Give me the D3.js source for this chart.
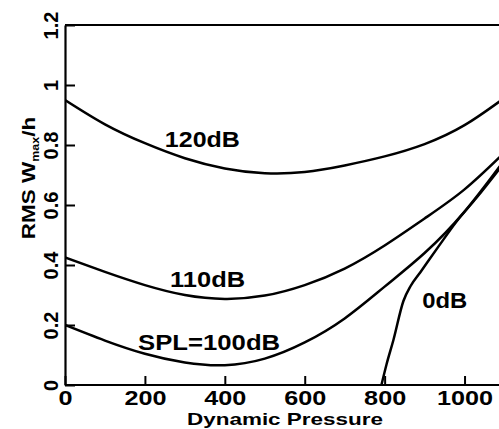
<!DOCTYPE html>
<html>
<head>
<meta charset="utf-8">
<script src="https://cdn.jsdelivr.net/npm/d3@7"></script>
<style>
  html, body { margin: 0; padding: 0; background: #fff; }
  svg { display: block; }
  text { font-family: "Liberation Sans", Arial, sans-serif; font-weight: bold; fill: #000; }
</style>
</head>
<body>
<svg id="chart" width="499" height="429"></svg>
<script>
// ---- data ----
const pressure = [0, 100, 200, 300, 400, 500, 600, 700, 800, 900, 1000, 1100];
const rms120 = [0.95, 0.869, 0.806, 0.756, 0.722, 0.706, 0.71, 0.732, 0.762, 0.803, 0.866, 0.957];
const rms110 = [0.425, 0.377, 0.333, 0.300, 0.287, 0.298, 0.333, 0.388, 0.465, 0.555, 0.652, 0.775];
const rms100 = [0.20, 0.148, 0.104, 0.075, 0.066, 0.088, 0.142, 0.222, 0.328, 0.44, 0.578, 0.75];
const pressure0 = [792, 805, 822, 847, 865, 889, 935, 980, 1030, 1100];
const rms0 = [0, 0.07, 0.15, 0.28, 0.33, 0.375, 0.462, 0.545, 0.624, 0.742];
const xTicks = [0, 200, 400, 600, 800, 1000];
const yTicks = [0, 0.2, 0.4, 0.6, 0.8, 1, 1.2];
const curveLabels = [
  { text: "120dB", p: 250, v: 0.793, w: 75 },
  { text: "110dB", p: 263, v: 0.327, w: 75 },
  { text: "SPL=100dB", p: 183, v: 0.117, w: 142 },
  { text: "0dB", p: 894, v: 0.257, w: 45 }
];

// ---- layout ----
const svg = d3.select("#chart");
const x = d3.scaleLinear().domain([0, 1100]).range([65, 504.5]);
const y = d3.scaleLinear().domain([0, 1.2]).range([385, 25]);

svg.append("defs").append("clipPath").attr("id", "clip")
  .append("rect").attr("x", 65).attr("y", 20).attr("width", 440).attr("height", 366);

// top frame line
svg.append("line").attr("x1", x(0)).attr("x2", 499).attr("y1", y(1.2)).attr("y2", y(1.2))
  .attr("stroke", "#000").attr("stroke-width", 2.2);

// x axis
const xAxis = svg.append("g").attr("transform", `translate(0,${y(0)})`)
  .call(d3.axisBottom(x).tickValues(xTicks).tickSizeInner(-9).tickSizeOuter(0).tickFormat(d3.format("d")));
xAxis.select(".domain").attr("stroke-width", 2.2).attr("d", `M${x(0)},0H499`);
xAxis.selectAll(".tick line").attr("stroke-width", 2);
xAxis.selectAll(".tick text").attr("y", 20).attr("dy", 0)
  .style("font-size", "21px").attr("transform", "scale(1.2,1)");

// y axis
const yAxis = svg.append("g").attr("transform", `translate(${x(0)},0)`)
  .call(d3.axisLeft(y).tickValues(yTicks).tickSizeInner(-10).tickSizeOuter(0).tickFormat(d => d3.format("~g")(d)));
yAxis.select(".domain").attr("stroke-width", 2.2);
yAxis.selectAll(".tick line").attr("stroke-width", 2);
yAxis.selectAll(".tick text").attr("x", null).attr("dy", null).attr("y", null)
  .attr("text-anchor", "middle")
  .attr("transform", "translate(-7,0) rotate(-90)")
  .style("font-size", "20px");

// axis titles
svg.append("text").attr("x", 285).attr("y", 425).attr("text-anchor", "middle")
  .attr("textLength", 196).attr("lengthAdjust", "spacingAndGlyphs")
  .style("font-size", "17px").text("Dynamic Pressure");

const yt = svg.append("text").attr("text-anchor", "middle")
  .attr("transform", "translate(35,178) rotate(-90) scale(1.25,1)")
  .style("font-size", "18px");
yt.append("tspan").text("RMS W");
yt.append("tspan").attr("dy", 4).style("font-size", "10px").text("max");
yt.append("tspan").attr("dy", -4).text("/h");

// curves
const line = d3.line().x(d => x(d[0])).y(d => y(d[1])).curve(d3.curveNatural);
const lineM = d3.line().x(d => x(d[0])).y(d => y(d[1])).curve(d3.curveMonotoneX);
const plot = svg.append("g").attr("clip-path", "url(#clip)");
[rms120, rms110, rms100].forEach(series => {
  plot.append("path").datum(pressure.map((p, i) => [p, series[i]]))
    .attr("d", line).attr("fill", "none").attr("stroke", "#000").attr("stroke-width", 2.5);
});
plot.append("path").datum(pressure0.map((p, i) => [p, rms0[i]]))
  .attr("d", lineM).attr("fill", "none").attr("stroke", "#000").attr("stroke-width", 2.5);

// curve labels
curveLabels.forEach(l => {
  svg.append("text").attr("x", x(l.p)).attr("y", y(l.v))
    .attr("textLength", l.w).attr("lengthAdjust", "spacingAndGlyphs")
    .style("font-size", "22px").text(l.text);
});
</script>
</body>
</html>
